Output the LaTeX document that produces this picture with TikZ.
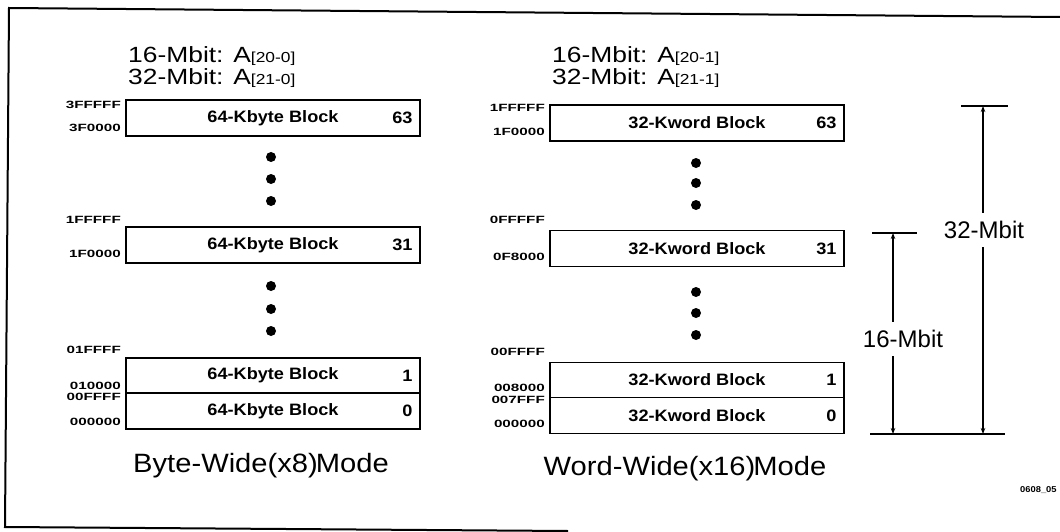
\documentclass[tikz,border=0pt]{standalone}
\usepackage{fontspec}
\setmainfont{Liberation Sans}
\newfontfamily\wfont{Liberation Sans}[FakeStretch=1.2]
\newfontfamily\cfont{Liberation Sans}[FakeStretch=1.1]
\newfontfamily\blkfont{Liberation Sans}[FakeStretch=1.1]
\newfontfamily\adfont{Liberation Sans}[FakeStretch=1.45]
\usetikzlibrary{arrows.meta}
\begin{document}
\begin{tikzpicture}[x=1pt,y=-1pt,
  blk/.style={draw, line width=1.5pt, minimum width=294pt, minimum height=36pt, inner sep=0pt,
    font=\blkfont\bfseries\fontsize{16.5}{18}\selectfont},
  num/.style={anchor=east, inner sep=0pt, xshift=-8pt, font=\blkfont\bfseries\fontsize{16.5}{18}\selectfont},
  addr/.style={anchor=east, inner sep=0pt, font=\adfont\bfseries\fontsize{10.5}{12}\selectfont},
  ttl/.style={anchor=base west, inner sep=0pt, font=\wfont\fontsize{22}{24}\selectfont},
  capt/.style={anchor=base, inner sep=0pt, font=\cfont\fontsize{26.5}{28}\selectfont},
  dimlbl/.style={inner xsep=2pt, inner ysep=8pt, font=\fontsize{24}{26}\selectfont},
  dimline/.style={line width=1.3pt},
  arr/.style={dimline, -{Stealth[length=6pt,width=4.5pt]}},
  bdot/.style={circle, fill, minimum size=10pt, inner sep=0pt},
  frame/.style={line width=2pt}
]
\useasboundingbox (0,0) rectangle (1060,532);

% outer frame (open on the right)
\coordinate (f1) at (1060,17);
\coordinate (f2) at (9,8);
\coordinate (f3) at (5,527);
\coordinate (f4) at (568,531);
\draw[frame] (f1) -- (f2) -- (f3) -- (f4);

% ---------------- left column: byte-wide ----------------
\node[ttl] (tl1) at (128,63) {16-Mbit: A{\fontsize{14.5}{16}\selectfont[20-0]}};
\node[ttl] (tl2) at (128,85) {32-Mbit: A{\fontsize{14.5}{16}\selectfont[21-0]}};

\node[blk] (b63) at (273,118) {64-Kbyte Block};
\node[num] (n63) at (b63.east) {63};
\node[blk] (b31) at (273,245) {64-Kbyte Block};
\node[num] (n31) at (b31.east) {31};
\node[blk, minimum height=35pt] (b1) at (273,375.5) {64-Kbyte Block};
\node[num] (n1) at (b1.east) {1};
\node[blk] (b0) at (273,411) {64-Kbyte Block};
\node[num] (n0) at (b0.east) {0};

\node[bdot] (ld1) at (271,157) {};
\node[bdot] (ld2) at (271,179) {};
\node[bdot] (ld3) at (271,201) {};
\node[bdot] (ld4) at (271,286) {};
\node[bdot] (ld5) at (271,309) {};
\node[bdot] (ld6) at (271,331) {};

\node[addr] (la1) at (121,105) {3FFFFF};
\node[addr] (la2) at (121,128) {3F0000};
\node[addr] (la3) at (121,220) {1FFFFF};
\node[addr] (la4) at (121,254) {1F0000};
\node[addr] (la5) at (121,350) {01FFFF};
\node[addr] (la6) at (121,386) {010000};
\node[addr] (la7) at (121,397) {00FFFF};
\node[addr] (la8) at (121,422) {000000};

\node[capt] (capL) at (261,472) {Byte-Wide(x8)\kern-2pt Mode};

% ---------------- right column: word-wide ----------------
\node[ttl] (tr1) at (552,63) {16-Mbit: A{\fontsize{14.5}{16}\selectfont[20-1]}};
\node[ttl] (tr2) at (552,85) {32-Mbit: A{\fontsize{14.5}{16}\selectfont[21-1]}};

\node[blk] (c63) at (697,123) {32-Kword Block};
\node[num] (m63) at (c63.east) {63};
\node[blk] (c31) at (697,248.5) {32-Kword Block};
\node[num] (m31) at (c31.east) {31};
\node[blk, minimum height=35pt] (c1) at (697,380) {32-Kword Block};
\node[num] (m1) at (c1.east) {1};
\node[blk] (c0) at (697,415.5) {32-Kword Block};
\node[num] (m0) at (c0.east) {0};

\node[bdot] (rd1) at (696,163) {};
\node[bdot] (rd2) at (696,183) {};
\node[bdot] (rd3) at (696,205) {};
\node[bdot] (rd4) at (696,292) {};
\node[bdot] (rd5) at (696,313) {};
\node[bdot] (rd6) at (696,335) {};

\node[addr] (ra1) at (545,108) {1FFFFF};
\node[addr] (ra2) at (545,132) {1F0000};
\node[addr] (ra3) at (545,220) {0FFFFF};
\node[addr] (ra4) at (545,257) {0F8000};
\node[addr] (ra5) at (545,352) {00FFFF};
\node[addr] (ra6) at (545,388) {008000};
\node[addr] (ra7) at (545,400) {007FFF};
\node[addr] (ra8) at (545,424) {000000};

\node[capt] (capR) at (685,475) {Word-Wide(x16)\kern-2pt Mode};

% ---------------- dimension lines ----------------
\coordinate (k32a) at (961,106);
\coordinate (k32b) at (1008,106);
\coordinate (t32) at (983,106);
\coordinate (b32) at (983,434);
\coordinate (k16a) at (872,233);
\coordinate (k16b) at (917,233);
\coordinate (t16) at (893,233);
\coordinate (b16) at (893,434);
\coordinate (kba) at (870,434);
\coordinate (kbb) at (1005,434);

\draw[dimline] (k32a) -- (k32b);
\draw[dimline] (k16a) -- (k16b);
\draw[dimline] (kba) -- (kbb);

\node[dimlbl] (l32) at (984,230) {32-Mbit};
\node[dimlbl] (l16) at (903,339) {16-Mbit};

\draw[arr] (l32.north -| t32) -- (t32);
\draw[arr] (l32.south -| b32) -- (b32);
\draw[arr] (l16.north -| t16) -- (t16);
\draw[arr] (l16.south -| b16) -- (b16);

\node[anchor=west, inner sep=0pt, font=\blkfont\bfseries\fontsize{8.5}{10}\selectfont] (fig) at (1020,490) {0608\_05};
\end{tikzpicture}
\end{document}
